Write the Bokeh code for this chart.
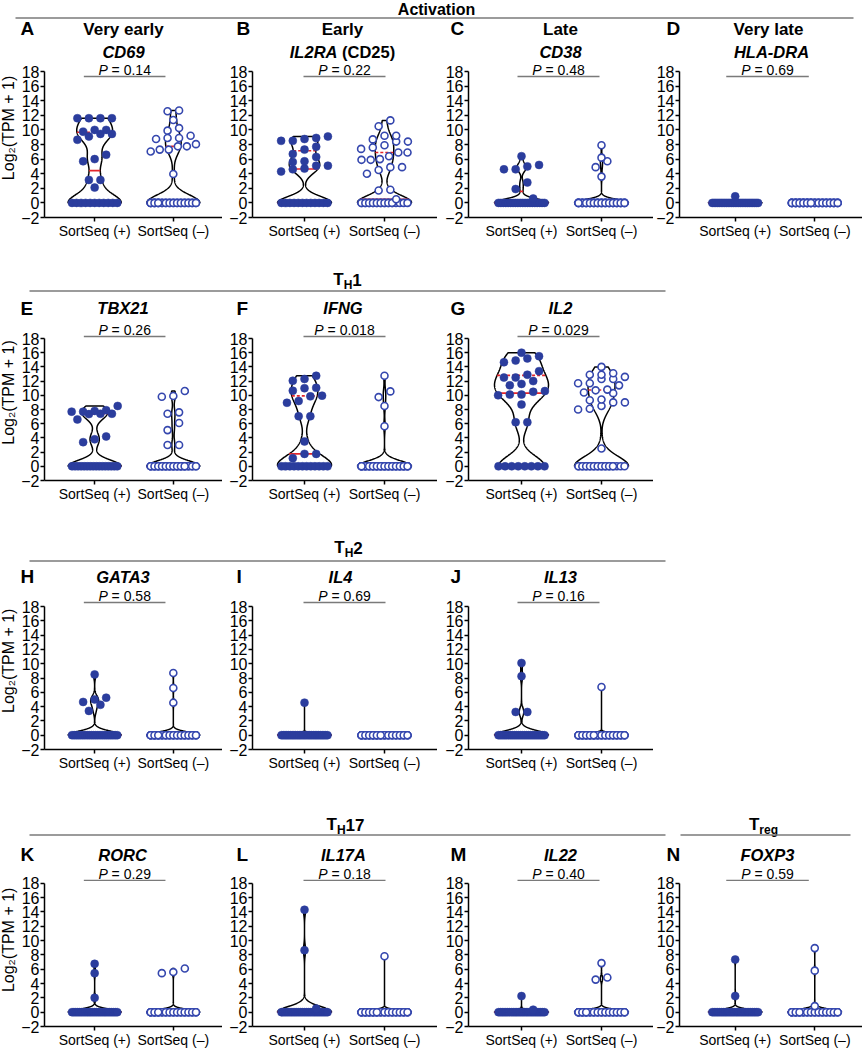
import numpy as np
from bokeh.plotting import figure
from bokeh.layouts import column, row
from bokeh.models import Range1d, FixedTicker
from bokeh.embed import file_html
from bokeh.resources import INLINE
from bokeh.core.properties import value

FONT = "Liberation Sans"
BLUE = "#2B3D9D"
BLUE_OPEN = "#3547AE"
RED = "#E3262B"
GRAY = "#7A7A7A"

# ---------------- data ----------------
letters = ["A", "B", "C", "D", "E", "F", "G", "H", "I", "J", "K", "L", "M", "N"]
stages = ["Very early", "Early", "Late", "Very late"]
genes = ["CD69", "IL2RA", "CD38", "HLA-DRA", "TBX21", "IFNG", "IL2",
         "GATA3", "IL4", "IL13", "RORC", "IL17A", "IL22", "FOXP3"]
gene_suffix = {"IL2RA": "(CD25)"}
p_values = ["0.14", "0.22", "0.48", "0.69", "0.26", "0.018", "0.029",
            "0.58", "0.69", "0.16", "0.29", "0.18", "0.40", "0.59"]
groups = ["SortSeq (+)", "SortSeq (\u2013)"]
n_pos = 28   # cells in SortSeq (+)
n_neg = 45   # cells in SortSeq (-)

# non-zero log2(TPM+1) values; remaining cells of each group are 0
pos_CD69 = [11.6, 11.6, 11.6, 11.6, 10.0, 10.0, 9.75, 9.45, 9.45, 9.1, 8.65, 6.6, 6.0, 5.7, 3.15, 3.15, 2.1]
neg_CD69 = [12.65, 12.55, 11.35, 10.25, 9.9, 9.2, 8.9, 8.9, 8.75, 8.05, 7.75, 7.75, 7.3, 7.3, 7.05, 3.95]
pos_IL2RA = [9.1, 8.9, 8.5, 8.5, 8.75, 7.7, 7.3, 6.7, 6.3, 5.1, 5.6, 5.1, 5.7, 4.6, 4.7, 4.3]
neg_IL2RA = [11.3, 10.5, 9.2, 9.2, 8.7, 8.4, 8.4, 7.9, 7.6, 7.4, 6.9, 6.9, 6.4, 6.0, 5.9, 5.9,
             4.9, 4.9, 4.5, 4.0, 1.8, 1.7, 0.5]
pos_CD38 = [6.4, 5.2, 5.0, 4.6, 4.6, 2.8, 1.9, 0.6]
neg_CD38 = [7.9, 6.2, 5.7, 4.9, 3.6]
pos_HLADRA = [0.9]
neg_HLADRA = []
pos_TBX21 = [8.5, 7.9, 7.8, 7.7, 7.7, 7.4, 7.4, 7.35, 6.6, 4.2, 3.8, 3.4]
neg_TBX21 = [10.6, 9.9, 9.8, 7.6, 7.4, 6.1, 5.1, 3.0, 3.0]
pos_IFNG = [12.75, 12.3, 12.05, 11.05, 11.0, 10.65, 9.95, 9.85, 9.2, 8.95, 7.05, 7.05, 3.5, 1.75, 1.75, 1.15]
neg_IFNG = [12.75, 10.55, 9.75, 8.5, 5.65]
pos_IL2 = [16.0, 15.5, 15.2, 14.9, 14.65, 13.4, 12.9, 12.5, 12.5, 12.0, 11.6, 11.4, 10.6,
           10.5, 10.1, 10.1, 10.0, 8.7, 6.2, 6.2]
neg_IL2 = [14.0, 13.1, 12.9, 12.9, 12.6, 12.3, 12.3, 11.7, 11.7, 11.4, 10.8, 10.7, 10.4, 10.3,
           9.4, 9.3, 9.0, 9.0, 8.5, 8.1, 8.0, 2.5]
pos_GATA3 = [8.5, 5.25, 5.0, 4.65, 4.25, 3.4]
neg_GATA3 = [8.7, 6.6, 4.55]
pos_IL4 = [4.55]
neg_IL4 = []
pos_IL13 = [10.1, 8.25, 3.25, 3.25]
neg_IL13 = [6.75]
pos_RORC = [6.75, 5.45, 2.0]
neg_RORC = [6.1, 5.6, 5.45]
pos_IL17A = [14.3, 8.65, 0.5]
neg_IL17A = [7.8]
pos_IL22 = [2.25, 0.35]
neg_IL22 = [6.85, 4.85, 4.55]
pos_FOXP3 = [7.35, 2.25]
neg_FOXP3 = [8.95, 5.8, 0.85]

positives = [pos_CD69, pos_IL2RA, pos_CD38, pos_HLADRA, pos_TBX21, pos_IFNG, pos_IL2,
             pos_GATA3, pos_IL4, pos_IL13, pos_RORC, pos_IL17A, pos_IL22, pos_FOXP3]
negatives = [neg_CD69, neg_IL2RA, neg_CD38, neg_HLADRA, neg_TBX21, neg_IFNG, neg_IL2,
             neg_GATA3, neg_IL4, neg_IL13, neg_RORC, neg_IL17A, neg_IL22, neg_FOXP3]

y_ticks = list(range(-2, 19, 2))

# ---------------- helpers ----------------
REG_W = {" ": 278, "P": 667, "=": 584, ".": 278, "(": 333, ")": 333}
BOLD_W = {" ": 278, "(": 333, ")": 333, "C": 722, "D": 722, "I": 278, "L": 611, "R": 722,
          "A": 722, "T": 611, "H": 722, "r": 389, "e": 556, "g": 611}


def text_w(s, size, table):
    return sum(table.get(ch, 556) for ch in s) * size / 1000.0


MID = 0.35          # baseline -> em-box centre, in em
PX_PER_X = 80.0
HALF_W_PX = 27.0
ZERO_HALF_PX = 23.0
DIAM_PX = 7.5
COL_SP_PX = 11.7


def base_fig(w, h, xr, yr, bl=0, bb=0, axes=False):
    p = figure(width=w, height=h, x_range=xr, y_range=yr, output_backend="svg",
               toolbar_location=None, min_border_left=bl, min_border_right=0,
               min_border_top=0, min_border_bottom=bb, outline_line_color=None,
               background_fill_color="white", border_fill_color="white",
               x_axis_location="below" if axes else None,
               y_axis_location="left" if axes else None)
    p.grid.visible = False
    return p


def txt(p, x, y, s, size, style="normal", align="left", color="black",
        angle=0.0, x_offset=0.0):
    p.text(x=[x], y=[y], text=[s], text_font=value(FONT), text_font_size=f"{size}px",
           text_font_style=style, text_align=align, text_baseline="middle",
           text_color=color, angle=angle, x_offset=x_offset)


def htxt(p, x, base, s, size, style="bold", align="left"):
    # header figures use screen coordinates (y grows downward)
    txt(p, x, base - MID * size, s, size, style, align)


def swarm(vals, u, filled):
    vals = np.sort(np.asarray(vals, float))
    xs_px, ys = [], []
    zeros = vals[vals == 0]
    near = vals[(vals > 0) & (vals < 0.7)]
    rest = vals[vals >= 0.7]
    nz = len(zeros)
    if nz:
        npos = nz if filled else min(nz, 13)
        sp = 0.0 if npos == 1 else 2 * ZERO_HALF_PX / (npos - 1)
        for i in range(nz):
            j = i % npos
            xs_px.append((j - (npos - 1) / 2) * sp)
            ys.append(0.0)
    for i, v in enumerate(near):
        k = i // 2 + 1
        sgn = 1 if i % 2 == 0 else -1
        xs_px.append(sgn * k * COL_SP_PX)
        ys.append(v)
    rowh = DIAM_PX / u
    i = 0
    while i < len(rest):
        j = i
        while j + 1 < len(rest) and rest[j + 1] - rest[i] < rowh:
            j += 1
        grp = rest[i:j + 1]
        n = len(grp)
        sp = COL_SP_PX if n <= 5 else 2 * (HALF_W_PX - 4) / (n - 1)
        for q, v in enumerate(grp):
            xs_px.append((q - (n - 1) / 2) * sp)
            ys.append(v)
        i = j + 1
    return np.array(xs_px) / PX_PER_X, np.array(ys)


def violin(p, vals, c):
    v = np.asarray(vals, float)
    lo, hi = v.min(), v.max()
    if hi - lo < 1e-9:
        return
    h = max(0.2, 0.25 * v.std())      # kernel width follows the spread of each group
    ys = np.linspace(lo, hi, 400)
    d = np.exp(-0.5 * ((ys[:, None] - v[None, :]) / h) ** 2).sum(1)
    d = d / d.max()
    hw = d * HALF_W_PX / PX_PER_X
    xs = np.concatenate([c + hw, (c - hw)[::-1]])
    yy = np.concatenate([ys, ys[::-1]])
    p.patch(xs, yy, fill_color=None, line_color="black", line_width=1.5)
    q1, med, q3 = np.percentile(v, [25, 50, 75], method="weibull")
    for q, dash in ((q1, "3 2"), (q3, "3 2"), (med, "solid")):
        w = np.interp(q, ys, d) * HALF_W_PX / PX_PER_X
        p.segment(x0=[c - w], y0=[q], x1=[c + w], y1=[q], line_color=RED,
                  line_width=1.6, line_dash=dash)


# ---------------- layout geometry (screen px, page origin) ----------------
FULL_W = 868
LABEL_W = 18
COLS = [  # fig width, left border, x-range start
    (204, 23, 0.3625),
    (215, 30, 0.35),
    (216, 31, 0.3375),
    (209, 25, 0.30),
]
P_LINE = [(0.8625, 1.90), (0.9875, 2.0125), (0.95, 1.975), (0.8875, 1.925)]

ROWS = [
    dict(panels=[0, 1, 2, 3], top=61, y18=71, ym2=217, bottom=244, pline=-5.0),
    dict(panels=[4, 5, 6], top=321, y18=338, ym2=480, bottom=507, pline=2.0),
    dict(panels=[7, 8, 9], top=587, y18=606, ym2=749, bottom=776, pline=4.0),
    dict(panels=[10, 11, 12, 13], top=865, y18=883, ym2=1028, bottom=1050, pline=3.0),
]
HEADERS = [(0, 61), (244, 321), (507, 587), (776, 865)]
LETTER_X = [20, 236, 450, 666]
GENE_CX = [[123, 342, 560, 771], [122.5, 342.5, 560], [122.5, 340, 560], [122, 343, 560, 767]]
STAGE_CX = [123, 342, 560, 768]
LETTER_BASE = [35, 315, 582.5, 860.5]
GENE_BASE = [57, 313.5, 582.5, 860]


def sub_label(p, xc, yb, main, sub, tail):
    w1 = text_w(main, 17, BOLD_W)
    w2 = text_w(sub, 12, BOLD_W)
    w3 = text_w(tail, 17, BOLD_W)
    left = xc - (w1 + w2 + w3) / 2
    htxt(p, left, yb, main, 17)
    htxt(p, left + w1, yb + 4, sub, 12)
    if tail:
        htxt(p, left + w1 + w2, yb, tail, 17)


def hline(p, x0, x1, y):
    p.segment(x0=[x0], y0=[y], x1=[x1], y1=[y], line_color=GRAY, line_width=1.3)


def header(ri):
    t, b = HEADERS[ri]
    p = base_fig(FULL_W, b - t, Range1d(0, FULL_W), Range1d(b, t))
    if ri == 0:
        htxt(p, 436, 15, "Activation", 16, "bold", "center")
        hline(p, 15, 853, 17.5)
        for c in range(4):
            htxt(p, STAGE_CX[c], 35, stages[c], 17, "bold", "center")
    elif ri == 1:
        sub_label(p, 347, 285, "T", "H", "1")
        hline(p, 29, 665, 290.5)
    elif ri == 2:
        sub_label(p, 348, 553, "T", "H", "2")
        hline(p, 29, 665, 560.5)
    else:
        sub_label(p, 345, 830, "T", "H", "17")
        hline(p, 29, 665, 834.5)
        sub_label(p, 763, 830, "T", "reg", "")
        hline(p, 680, 850, 834.5)
    gsz = 16.5
    for c, k in enumerate(ROWS[ri]["panels"]):
        htxt(p, LETTER_X[c], LETTER_BASE[ri], letters[k], 19)
        g = genes[k]
        cx = GENE_CX[ri][c]
        if g in gene_suffix:
            s = gene_suffix[g]
            w1 = text_w(g, gsz, BOLD_W)
            ws = text_w(" ", gsz, BOLD_W)
            w2 = text_w(s, gsz, BOLD_W)
            left = cx - (w1 + ws + w2) / 2
            htxt(p, left, GENE_BASE[ri], g, gsz, "bold italic")
            htxt(p, left + w1 + ws, GENE_BASE[ri], s, gsz, "bold")
        else:
            htxt(p, cx, GENE_BASE[ri], g, gsz, "bold italic", "center")
    return p


def panel(k, c, spec):
    fw, bl, xs0 = COLS[c]
    h = spec["bottom"] - spec["top"]
    bb = spec["bottom"] - spec["ym2"]
    u = (spec["ym2"] - spec["y18"]) / 20.0
    ytop = 18 + (spec["y18"] - spec["top"]) / u
    frame_w = fw - bl
    p = base_fig(fw, h, Range1d(xs0, xs0 + frame_w / PX_PER_X), Range1d(-2, ytop),
                 bl=bl, bb=bb, axes=True)
    for ax in (p.xaxis[0], p.yaxis[0]):
        ax.axis_line_width = 1.5
        ax.axis_line_color = "black"
        ax.major_tick_line_width = 1.5
        ax.major_tick_line_color = "black"
        ax.major_tick_in = 0
        ax.major_tick_out = 4
        ax.minor_tick_line_color = None
        ax.major_label_text_font = FONT
        ax.major_label_text_color = "black"
    p.yaxis.ticker = FixedTicker(ticks=y_ticks)
    p.yaxis.bounds = (-2, 18)
    p.yaxis.major_label_overrides = {-2: "\u22122"}
    p.yaxis.major_label_text_font_size = "16px"
    p.yaxis.major_label_standoff = 1
    p.xaxis.ticker = FixedTicker(ticks=[1, 2])
    p.xaxis.major_label_overrides = {1: groups[0], 2: groups[1]}
    p.xaxis.major_label_text_font_size = "14px"
    p.xaxis.major_label_standoff = 1

    pos = np.array(positives[k] + [0.0] * (n_pos - len(positives[k])))
    neg = np.array(negatives[k] + [0.0] * (n_neg - len(negatives[k])))
    violin(p, pos, 1.0)
    violin(p, neg, 2.0)
    dx, yy = swarm(pos, u, True)
    p.scatter(1.0 + dx, yy, size=8, marker="circle", fill_color=BLUE, line_color=BLUE, line_width=0.5)
    dx, yy = swarm(neg, u, False)
    p.scatter(2.0 + dx, yy, size=7, marker="circle", fill_color="white", line_color=BLUE_OPEN,
              line_width=1.6)

    # P value bracket
    x0, x1 = P_LINE[c]
    yl = 18 + spec["pline"] / u
    p.segment(x0=[x0], y0=[yl], x1=[x1], y1=[yl], line_color=GRAY, line_width=1.3)
    rest = "= " + p_values[k]
    wp = text_w("P", 14, REG_W)
    ws = text_w(" ", 14, REG_W)
    wr = text_w(rest, 14, REG_W)
    tot = wp + ws + wr
    xc = (x0 + x1) / 2
    yt = yl + (2.0 + MID * 14) / u
    txt(p, xc, yt, "P", 14, "italic", x_offset=-tot / 2)
    txt(p, xc, yt, rest, 14, "normal", x_offset=-tot / 2 + wp + ws)
    return p


def ylabel_fig(spec):
    h = spec["bottom"] - spec["top"]
    u = (spec["ym2"] - spec["y18"]) / 20.0
    ytop = 18 + (spec["y18"] - spec["top"]) / u
    p = base_fig(LABEL_W, h, Range1d(0, 1), Range1d(-2 - (spec["bottom"] - spec["ym2"]) / u, ytop))
    txt(p, 0.47, 8.7, "Log\u2082(TPM + 1)", 16, "normal", "center", angle=np.pi / 2)
    return p


items = []
for ri, spec in enumerate(ROWS):
    items.append(header(ri))
    figs = [ylabel_fig(spec)]
    for c, k in enumerate(spec["panels"]):
        figs.append(panel(k, c, spec))
    items.append(row(*figs, spacing=0))

layout = column(*items, spacing=0)
open("out.html", "w").write(file_html(layout, INLINE))
